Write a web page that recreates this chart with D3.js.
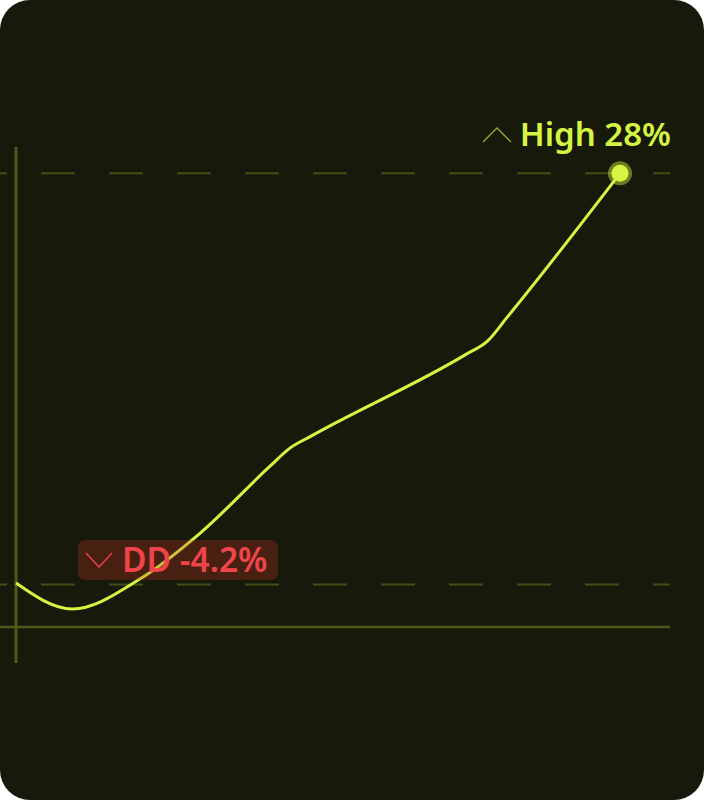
<!DOCTYPE html>
<html>
<head>
<meta charset="utf-8">
<script src="https://cdn.jsdelivr.net/npm/d3@7"></script>
<style>
  html, body { margin: 0; padding: 0; background: #fff; }
  svg { display: block; }
</style>
</head>
<body>
<svg width="704" height="800"></svg>
<script>
// equity curve: day (0-100) vs cumulative return %
let days = [0, 9.3, 20.5, 30.5, 42.1, 45.4, 48.7, 74.5, 78.0, 81.3, 100];
let returns = [0.1, -1.67, 0.37, 3.5, 8.07, 9.3, 10.07, 15.67, 16.55, 18.19, 28];
let highLabel = "High 28%";
let ddLabel = "DD -4.2%";
let refLevels = [28, 0];

let svg = d3.select("svg"),
    width = +svg.attr("width"),
    height = +svg.attr("height");

let lineColor = "#d6f542",
    axisColor = "#50581a",
    red = "#f0444b";

svg.append("rect")
  .attr("width", width).attr("height", height)
  .attr("rx", 30).attr("fill", "#171a0b");

let x = d3.scaleLinear().domain([0, 100]).range([16, 620]);
let y = d3.scaleLinear().domain([-2.9, 30]).range([627, 144]);

// dashed reference lines (high and zero)
svg.selectAll(".ref")
  .data(refLevels)
  .enter().append("line")
  .attr("class", "ref")
  .attr("x1", 0).attr("x2", 670)
  .attr("y1", d => y(d)).attr("y2", d => y(d))
  .attr("stroke", "#454c14")
  .attr("stroke-width", 2)
  .attr("stroke-dasharray", "34 34")
  .attr("stroke-dashoffset", 27);

// axes
svg.append("line")
  .attr("x1", 0).attr("x2", 670)
  .attr("y1", y(-2.9)).attr("y2", y(-2.9))
  .attr("stroke", axisColor).attr("stroke-width", 2.5);
svg.append("line")
  .attr("x1", x(0)).attr("x2", x(0))
  .attr("y1", 147).attr("y2", 663)
  .attr("stroke", axisColor).attr("stroke-width", 3);

let pts = days.map((d, i) => [d, returns[i]]);
let line = d3.line()
  .x(d => x(d[0]))
  .y(d => y(d[1]))
  .curve(d3.curveMonotoneX);

svg.append("path")
  .datum(pts)
  .attr("d", line)
  .attr("fill", "none")
  .attr("stroke", lineColor)
  .attr("stroke-width", 3)
  .attr("stroke-linejoin", "round");

// drawdown badge
let dd = svg.append("g").attr("transform", "translate(78,540)");
dd.append("rect")
  .attr("width", 200).attr("height", 40).attr("rx", 7)
  .attr("fill", "rgba(200,50,40,0.28)");
dd.append("path")
  .attr("d", "M8,13 L21,27 L34,13")
  .attr("fill", "none").attr("stroke", red).attr("stroke-width", 1.3);
dd.append("text")
  .attr("x", 44).attr("y", 32)
  .attr("font-family", "'Noto Sans', sans-serif")
  .attr("font-size", 33.5).attr("font-weight", 600)
  .attr("fill", red)
  .text(ddLabel);

// high marker
let last = pts[pts.length - 1];
svg.append("circle")
  .attr("cx", x(last[0])).attr("cy", y(last[1]))
  .attr("r", 12).attr("fill", lineColor).attr("opacity", 0.45);
svg.append("circle")
  .attr("cx", x(last[0])).attr("cy", y(last[1]))
  .attr("r", 8.5).attr("fill", lineColor);

svg.append("path")
  .attr("d", "M483,142 L497,128 L511,142")
  .attr("fill", "none").attr("stroke", "#9aaa30").attr("stroke-width", 1.3);
svg.append("text")
  .attr("x", 671).attr("y", 146)
  .attr("text-anchor", "end")
  .attr("font-family", "'Noto Sans', sans-serif")
  .attr("font-size", 33).attr("font-weight", 600)
  .attr("fill", lineColor)
  .text(highLabel);
</script>
</body>
</html>
